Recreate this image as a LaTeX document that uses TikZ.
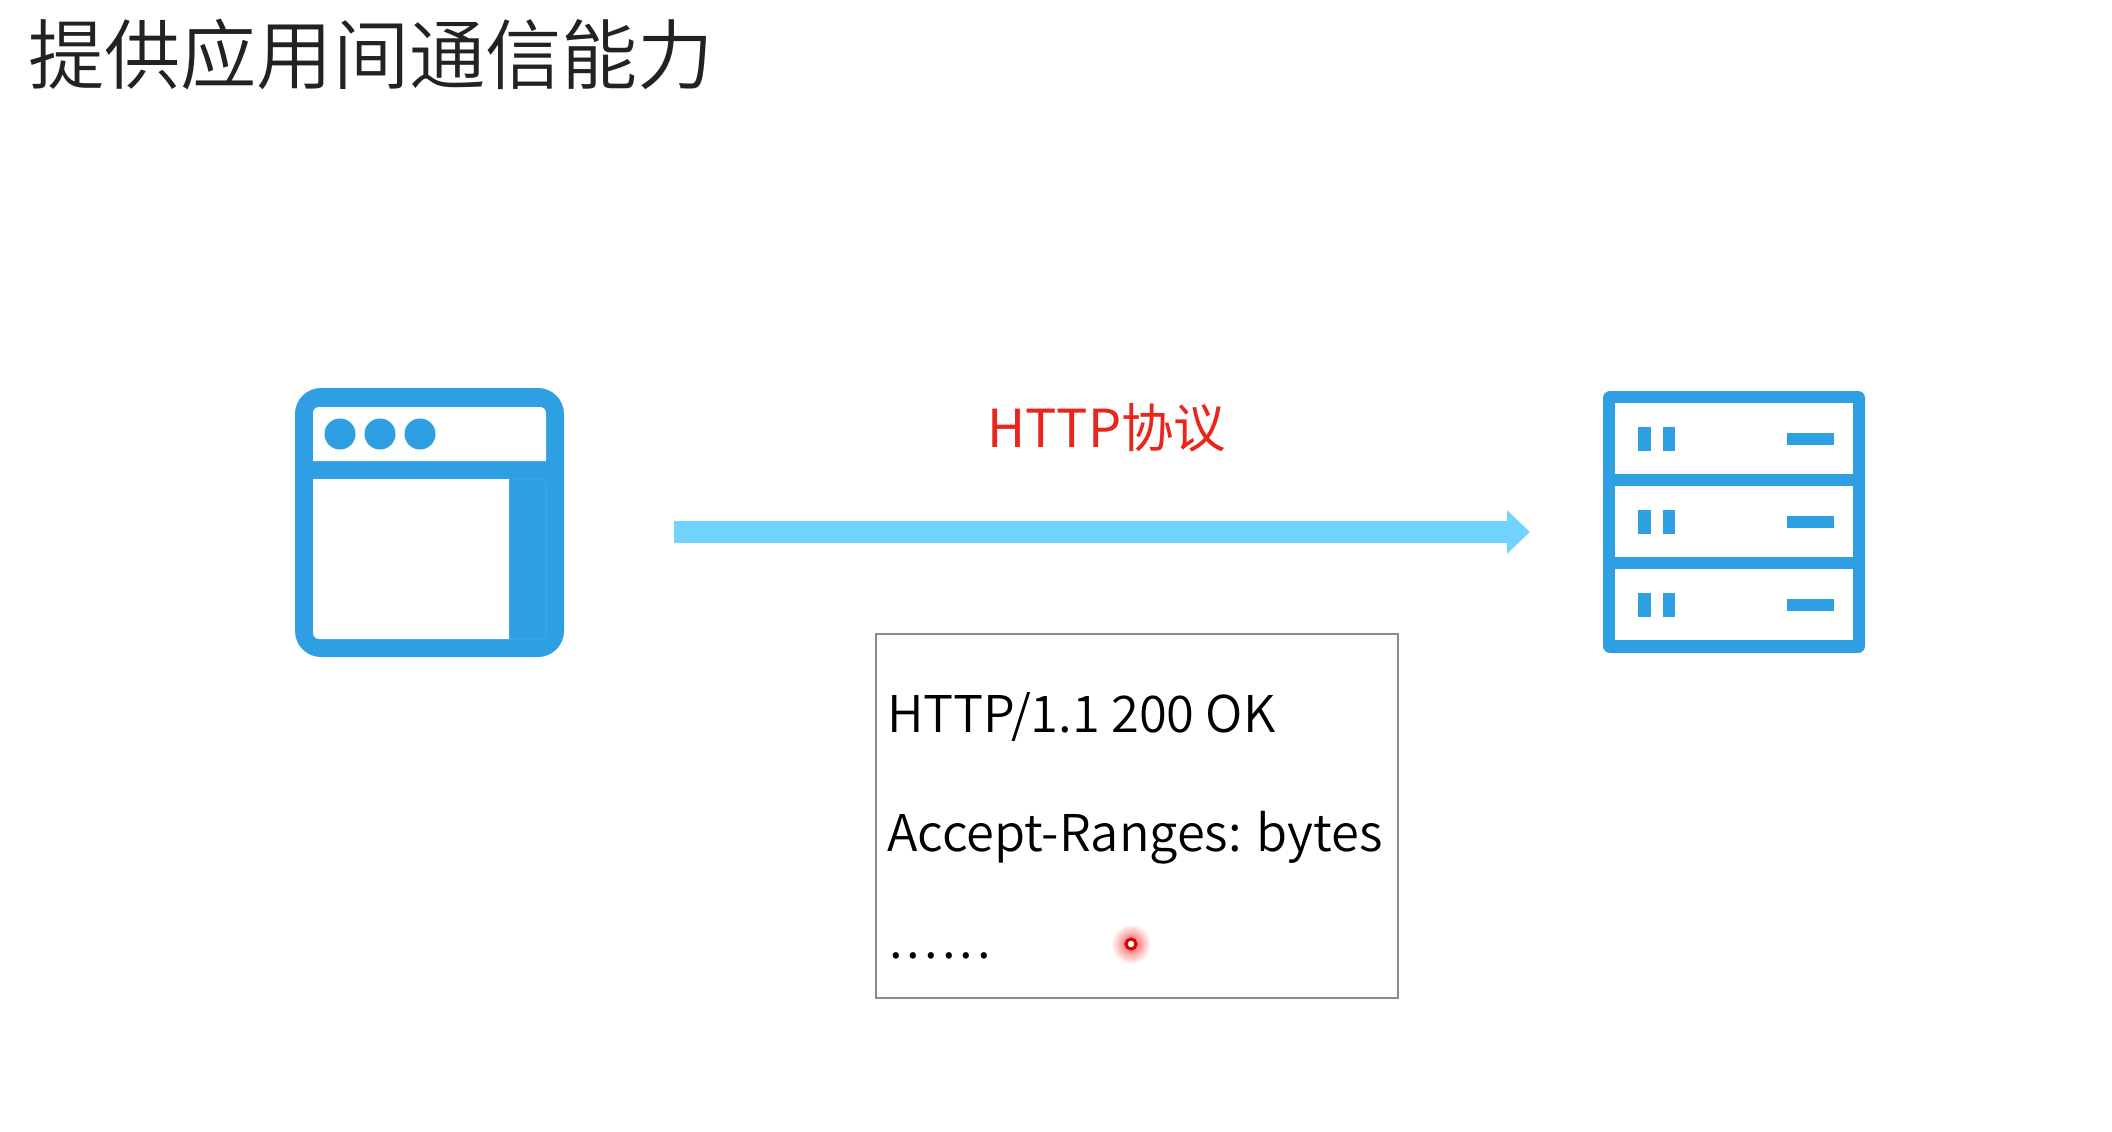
\documentclass[tikz,border=0pt]{standalone}
\usepackage{fontspec}
\usetikzlibrary{arrows.meta}
\setmainfont{Noto Sans CJK SC}
\newfontfamily\cjklight{Noto Sans CJK SC DemiLight}
\definecolor{iconblue}{HTML}{2F9FE3}
\definecolor{iconedge}{HTML}{3FA9E8}
\definecolor{arrowblue}{HTML}{73D3FF}
\definecolor{redlabel}{HTML}{E8261C}
\definecolor{titleink}{HTML}{222222}
\begin{document}
\begin{tikzpicture}[x=1pt,y=-1pt,
  iconfill/.style={fill=iconblue},
  hole/.style={fill=white},
  bodytext/.style={anchor=base west,inner sep=0pt,text=black,font=\cjklight\fontsize{50.6}{50.6}\selectfont},
  flow/.style={draw=arrowblue,line width=22pt,-{Triangle[width=42pt,length=23pt]}}
]
\useasboundingbox[fill=white] (0,0) rectangle (2112,1132);
% title
\node[anchor=base west,inner sep=0pt,text=titleink,font=\cjklight\fontsize{76.2}{76.2}\selectfont] (title) at (28,84) {提供应用间通信能力};
% browser icon
\fill[iconfill,rounded corners=26pt] (295,388) rectangle (564,657);
\fill[hole] (313,461) -- (313,413) arc[start angle=180,end angle=270,radius=6] -- (540,407) arc[start angle=270,end angle=360,radius=6] -- (546,461) -- cycle;
\fill[hole] (313,479) -- (509,479) -- (509,639) -- (319,639) arc[start angle=90,end angle=180,radius=6] -- cycle;
\draw[iconedge,line width=1pt,rounded corners=5pt] (509,479) -- (546,479) -- (546,639) -- (509,639);
\foreach \cx in {340,380,420} \fill[iconfill] (\cx,434) circle (15.5);
% server icon
\fill[iconfill,rounded corners=7pt] (1603,391) rectangle (1865,653);
\foreach \ya/\yb in {403/474,486/557,569/640}{
  \fill[hole] (1615,\ya) rectangle (1853,\yb);
  \pgfmathsetmacro{\ym}{(\ya+\yb)/2}
  \fill[iconfill] (1638,\ym-12) rectangle (1651,\ym+12);
  \fill[iconfill] (1663,\ym-12) rectangle (1675,\ym+12);
  \fill[iconfill] (1787,\ym-6) rectangle (1834,\ym+6);
}
% arrow
\coordinate (flowstart) at (674,532);
\coordinate (flowend) at (1530,532);
\draw[flow] (flowstart) -- (flowend);
\node[anchor=base west,inner sep=0pt,text=redlabel,font=\fontsize{52.4}{52.4}\selectfont] (protocol) at (987,447) {HTTP协议};
% message box
\node[draw=black!45,line width=1.5pt,fill=white,minimum width=522pt,minimum height=364pt,anchor=north west,inner sep=0pt] (box) at (875,633) {};
\node[bodytext] (line1) at (887,732) {HTTP/1.1 200 OK};
\node[bodytext] (line2) at (887,851) {Accept-Ranges: bytes};
\node[bodytext] (line3) at (889,958) {.\kern4pt.\kern4pt.\kern4pt.\kern4pt.\kern4pt.};
% pointer
\shade[inner color=red!70,outer color=white] (1131,944) circle (20);
\draw[draw=red!85!black,fill=white,line width=3pt] (1131,944) circle (5);
\end{tikzpicture}
\end{document}
